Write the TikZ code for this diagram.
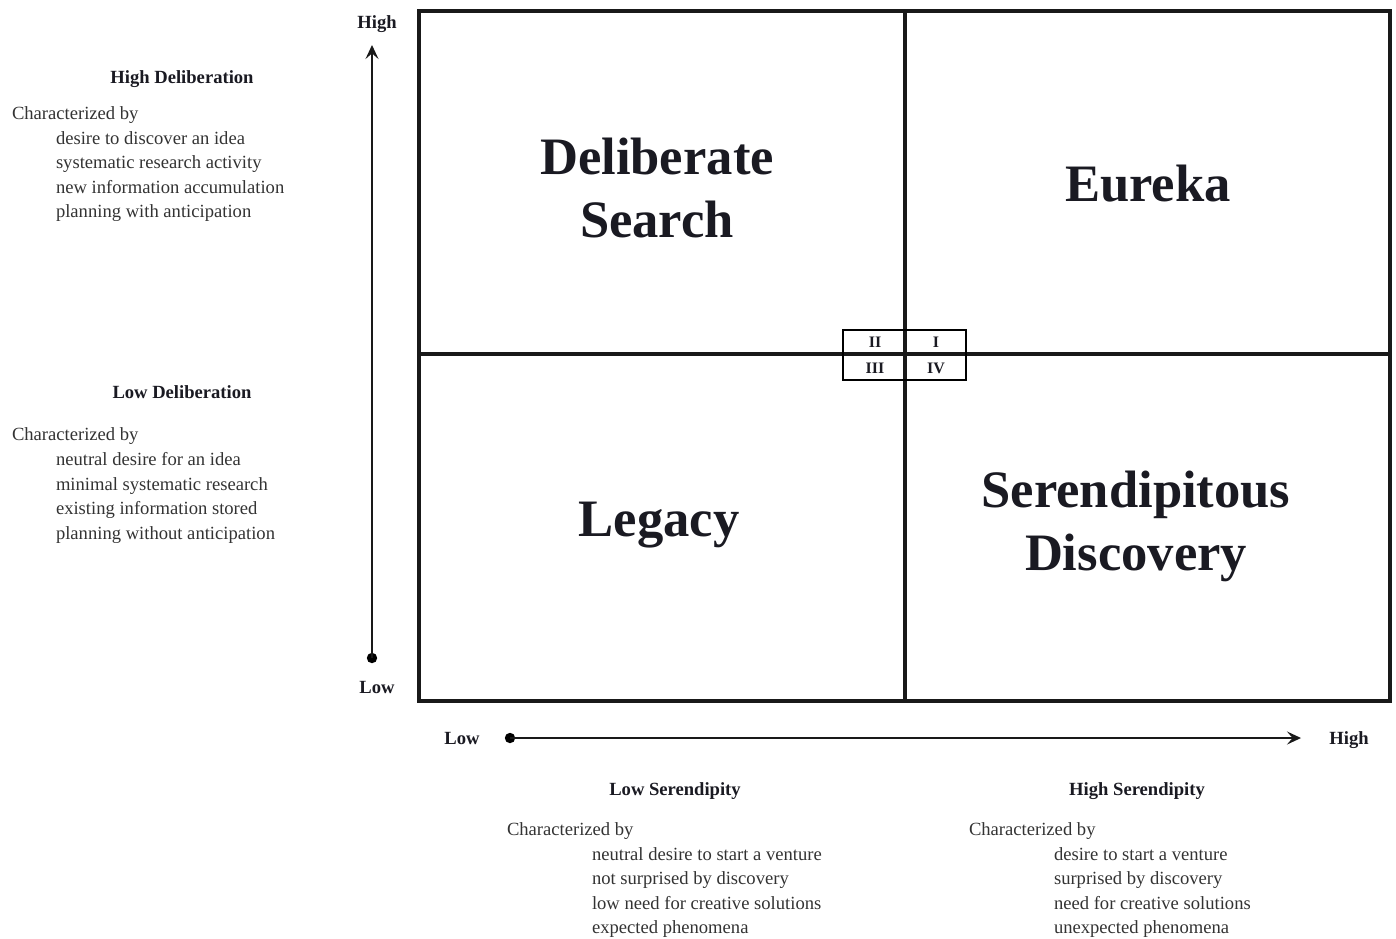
\documentclass[tikz,border=0pt]{standalone}
\usepackage{fontspec}
\setmainfont{Liberation Serif}
\usetikzlibrary{arrows.meta}
\definecolor{bodytxt}{HTML}{333333}
\definecolor{headtxt}{HTML}{1A1A22}
\begin{document}
\begin{tikzpicture}[x=0.5pt,y=-0.5pt,
  every node/.style={inner sep=0pt,outer sep=0pt,text height=0.7em,text depth=0.2em},
  body/.style={anchor=west,font=\fontsize{9.3}{12}\selectfont,text=bodytxt},
  head/.style={font=\bfseries\fontsize{9.3}{12}\selectfont,text=headtxt},
  big/.style={font=\bfseries\fontsize{26.3}{31.5}\selectfont,text=headtxt,align=center,text height=,text depth=},
  roman/.style={font=\bfseries\fontsize{8}{9}\selectfont,text=headtxt},
  frame/.style={line width=1.6pt,draw=black!90},
  axis/.style={line width=1pt,draw=black!90},
  tip/.style={-{Stealth[length=7pt,width=6.5pt,inset=2.8pt]}}
]
\useasboundingbox (0,0) rectangle (1396,938);
% quadrant frame
\draw[frame] (419,11) rectangle (1390,701);
\draw[frame] (905,11) -- (905,701);
\draw[frame] (419,354) -- (1390,354);
\draw[line width=1pt] (843,330) rectangle (966,380);
% quadrant labels
\node[roman] (qII) at (875,342) {II};
\node[roman] (qI) at (936,342) {I};
\node[roman] (qIII) at (875,368) {III};
\node[roman] (qIV) at (936,368) {IV};
\node[big] (ds) at (657,188) {Deliberate\\Search};
\node[big] (eu) at (1148,184) {Eureka};
\node[big] (lg) at (659,525) {Legacy};
\node[big] (sd) at (1136,526) {Serendipitous\\Discovery};
% vertical axis
\node[head] (vhigh) at (377,23) {High};
\node[head] (vlow) at (377,688) {Low};
\coordinate (vstart) at (372,658);
\coordinate (vend) at (372,45);
\fill (vstart) circle (2.6pt);
\draw[axis,tip] (vstart) -- (vend);
% horizontal axis
\node[head] (hlow) at (462,739) {Low};
\node[head] (hhigh) at (1349,739) {High};
\coordinate (hstart) at (510,738);
\coordinate (hend) at (1301,738);
\fill (hstart) circle (2.6pt);
\draw[axis,tip] (hstart) -- (hend);
% left descriptions
\node[head] (hd) at (182,78) {High Deliberation};
\node[body] (hd0) at (12,114) {Characterized by};
\node[body] (hd1) at (56,139) {desire to discover an idea};
\node[body] (hd2) at (56,163) {systematic research activity};
\node[body] (hd3) at (56,188) {new information accumulation};
\node[body] (hd4) at (56,212) {planning with anticipation};
\node[head] (ld) at (182,393) {Low Deliberation};
\node[body] (ld0) at (12,435) {Characterized by};
\node[body] (ld1) at (56,460) {neutral desire for an idea};
\node[body] (ld2) at (56,485) {minimal systematic research};
\node[body] (ld3) at (56,509) {existing information stored};
\node[body] (ld4) at (56,534) {planning without anticipation};
% bottom descriptions
\node[head] (ls) at (675,790) {Low Serendipity};
\node[body] (ls0) at (507,830) {Characterized by};
\node[body] (ls1) at (592,855) {neutral desire to start a venture};
\node[body] (ls2) at (592,879) {not surprised by discovery};
\node[body] (ls3) at (592,904) {low need for creative solutions};
\node[body] (ls4) at (592,928) {expected phenomena};
\node[head] (hs) at (1137,790) {High Serendipity};
\node[body] (hs0) at (969,830) {Characterized by};
\node[body] (hs1) at (1054,855) {desire to start a venture};
\node[body] (hs2) at (1054,879) {surprised by discovery};
\node[body] (hs3) at (1054,904) {need for creative solutions};
\node[body] (hs4) at (1054,928) {unexpected phenomena};
\end{tikzpicture}
\end{document}
